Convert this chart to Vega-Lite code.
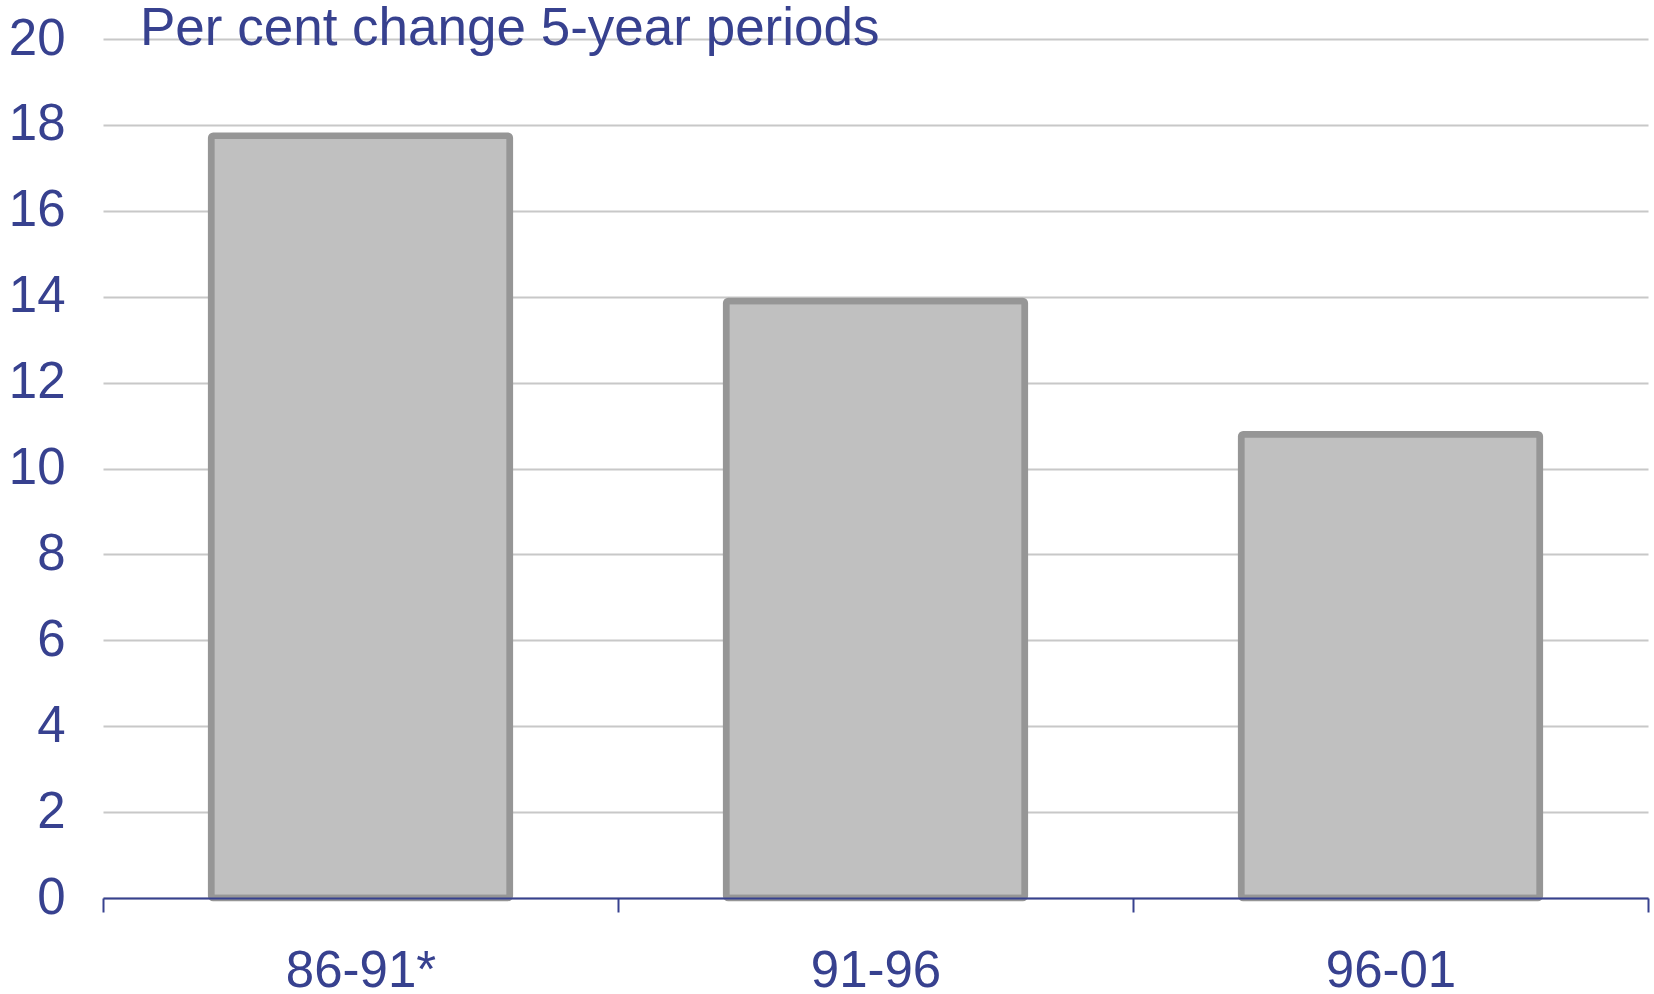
{
  "$schema": "https://vega.github.io/schema/vega-lite/v6.json",
  "autosize": "none",
  "width": 1545,
  "height": 859,
  "padding": {"left": 103, "top": 39, "right": 6, "bottom": 96},
  "background": "white",
  "title": {
    "text": "Per cent change 5-year periods",
    "anchor": "start",
    "frame": "group",
    "orient": "top",
    "baseline": "alphabetic",
    "offset": 0,
    "dx": 37,
    "dy": 85,
    "font": "Liberation Sans",
    "fontSize": 53,
    "fontWeight": "normal",
    "color": "#37418F"
  },
  "data": {
    "values": [
      {"period": "86-91*", "change": 17.75},
      {"period": "91-96", "change": 13.9},
      {"period": "96-01", "change": 10.8}
    ]
  },
  "config": {
    "view": {"stroke": null},
    "axis": {
      "labelFont": "Liberation Sans",
      "labelFontSize": 51,
      "labelColor": "#37418F"
    }
  },
  "mark": {
    "type": "bar",
    "fill": "#C0C0C0",
    "stroke": "#969696",
    "strokeWidth": 6.5,
    "cornerRadius": 2,
    "width": {"band": 0.58}
  },
  "encoding": {
    "x": {
      "field": "period",
      "type": "ordinal",
      "sort": null,
      "scale": {"paddingInner": 0, "paddingOuter": 0},
      "axis": {
        "title": null,
        "labelAngle": 0,
        "tickBand": "extent",
        "tickSize": 14,
        "tickWidth": 2,
        "tickColor": "#37418F",
        "domainColor": "#37418F",
        "domainWidth": 2,
        "labelPadding": 34,
        "zindex": 1
      }
    },
    "y": {
      "field": "change",
      "type": "quantitative",
      "scale": {"domain": [0, 20], "nice": false},
      "axis": {
        "title": null,
        "values": [0, 2, 4, 6, 8, 10, 12, 14, 16, 18, 20],
        "domain": false,
        "ticks": false,
        "grid": true,
        "gridColor": "#C8C8C8",
        "gridWidth": 2,
        "labelPadding": 38,
        "zindex": 0
      }
    }
  }
}
